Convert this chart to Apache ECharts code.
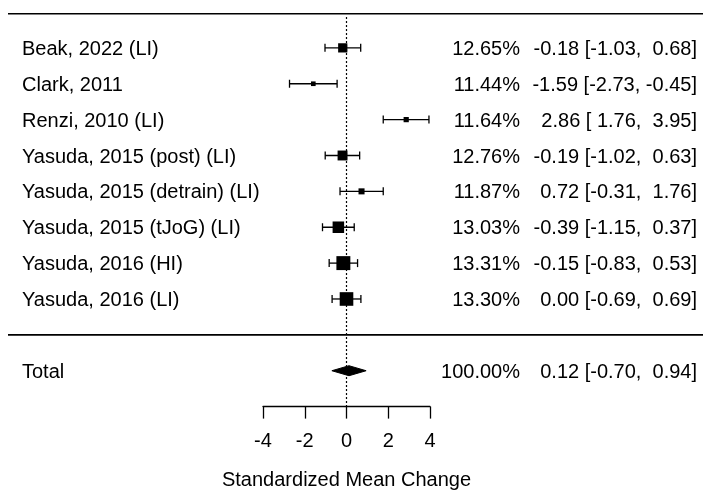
<!DOCTYPE html>
<html>
<head>
<meta charset="utf-8">
<script src="https://cdn.jsdelivr.net/npm/echarts@6/dist/echarts.min.js"></script>
<style>
html,body{margin:0;padding:0;background:#fff;}
#chart{width:703px;height:490px;}
</style>
</head>
<body>
<div id="chart"></div>
<script>
// ---- data ----
var studies = ['Beak, 2022 (LI)', 'Clark, 2011', 'Renzi, 2010 (LI)', 'Yasuda, 2015 (post) (LI)',
  'Yasuda, 2015 (detrain) (LI)', 'Yasuda, 2015 (tJoG) (LI)', 'Yasuda, 2016 (HI)', 'Yasuda, 2016 (LI)'];
var weights = [12.65, 11.44, 11.64, 12.76, 11.87, 13.03, 13.31, 13.30];
var estimates = [-0.18, -1.59, 2.86, -0.19, 0.72, -0.39, -0.15, 0.00];
var ciLower = [-1.03, -2.73, 1.76, -1.02, -0.31, -1.15, -0.83, -0.69];
var ciUpper = [0.68, -0.45, 3.95, 0.63, 1.76, 0.37, 0.53, 0.69];
var totalLabel = 'Total';
var totalWeight = 100.00;
var totalEstimate = 0.12;
var totalLower = -0.70;
var totalUpper = 0.94;
var xTicks = [-4, -2, 0, 2, 4];
var axisTitle = 'Standardized Mean Change';

// ---- helpers ----
var FONT = '"Liberation Sans", Arial, sans-serif';
var FS = 20;
var TEXT_DY = 1.5;
function f2(v) { return (v < 0 ? '-' : ' ') + Math.abs(v).toFixed(2); }
function ciText(e, l, u) { return e.toFixed(2) + ' [' + f2(l) + ', ' + f2(u) + ']'; }

// box size: metafor style, from 1/SE rescaled to [0.5, 1.5]
var invSe = ciLower.map(function (l, i) { return 2 * 1.96 / (ciUpper[i] - l); });
var wMin = Math.min.apply(null, invSe), wMax = Math.max.apply(null, invSe);
var psize = invSe.map(function (w) { return (w - wMin) / (wMax - wMin) + 0.5; });

var rowData = studies.map(function (s, i) {
  return [estimates[i], i + 1, ciLower[i], ciUpper[i], psize[i], i];
});
var totalRow = studies.length + 2;

var LABEL_X = 22, PCT_X = 520, EST_X = 697;

function textEl(txt, x, y, align) {
  return { type: 'text', x: x, y: y + TEXT_DY, style: { text: txt, fill: '#000', fontSize: FS, fontFamily: FONT, align: align, verticalAlign: 'middle' } };
}

var chart = echarts.init(document.getElementById('chart'), null, { renderer: 'canvas' });
chart.setOption({
  animation: false,
  backgroundColor: '#fff',
  grid: { left: 263, right: 273, top: 12, bottom: 83.4, containLabel: false, outerBoundsMode: 'none' },
  xAxis: {
    type: 'value', min: -4, max: 4, interval: 2, position: 'bottom',
    axisLine: { show: true, onZero: false, lineStyle: { color: '#000', width: 1.3 } },
    axisTick: { show: true, length: 12, lineStyle: { color: '#000', width: 1.3 } },
    axisLabel: { fontSize: FS, color: '#000', fontFamily: FONT, margin: 25,
      formatter: function (v) { return xTicks.indexOf(v) >= 0 ? String(v) : ''; } },
    splitLine: { show: false },
    name: axisTitle, nameLocation: 'middle', nameGap: 64,
    nameTextStyle: { fontSize: FS, color: '#000', fontFamily: FONT }
  },
  yAxis: { type: 'value', min: 0, max: 11, inverse: true, show: false },
  series: [
    { // horizontal rules and reference line
      type: 'custom', silent: true,
      data: [[0, 0.05, 0], [0, 9, 0], [0, 0.14, 1]],
      renderItem: function (params, api) {
        var kind = api.value(2);
        if (kind === 0) {
          var y = api.coord([0, api.value(1)])[1];
          return { type: 'line', shape: { x1: 8, y1: y, x2: api.getWidth(), y2: y }, style: { stroke: '#000', lineWidth: 1.6 } };
        }
        var p1 = api.coord([0, api.value(1)]);
        var p2 = api.coord([0, 11]);
        return { type: 'line', shape: { x1: p1[0], y1: p1[1], x2: p2[0], y2: p2[1] }, style: { stroke: '#000', lineWidth: 1.2, lineDash: [2, 2] } };
      }
    },
    { // study rows
      type: 'custom', silent: true,
      data: rowData,
      renderItem: function (params, api) {
        var i = api.value(5);
        var row = api.value(1);
        var pe = api.coord([api.value(0), row]);
        var pl = api.coord([api.value(2), row]);
        var pu = api.coord([api.value(3), row]);
        var s = 9.3 * api.value(4);
        var cap = 4;
        var stroke = { stroke: '#000', lineWidth: 1.3 };
        return { type: 'group', children: [
          { type: 'line', shape: { x1: pl[0], y1: pl[1], x2: pu[0], y2: pu[1] }, style: stroke },
          { type: 'line', shape: { x1: pl[0], y1: pl[1] - cap, x2: pl[0], y2: pl[1] + cap }, style: stroke },
          { type: 'line', shape: { x1: pu[0], y1: pu[1] - cap, x2: pu[0], y2: pu[1] + cap }, style: stroke },
          { type: 'rect', shape: { x: pe[0] - s / 2, y: pe[1] - s / 2, width: s, height: s }, style: { fill: '#000' } },
          textEl(studies[i], LABEL_X, pe[1], 'left'),
          textEl(weights[i].toFixed(2) + '%', PCT_X, pe[1], 'right'),
          textEl(ciText(estimates[i], ciLower[i], ciUpper[i]), EST_X, pe[1], 'right')
        ] };
      }
    },
    { // total diamond
      type: 'custom', silent: true,
      data: [[totalEstimate, totalRow, totalLower, totalUpper]],
      renderItem: function (params, api) {
        var row = api.value(1);
        var pe = api.coord([api.value(0), row]);
        var pl = api.coord([api.value(2), row]);
        var pu = api.coord([api.value(3), row]);
        var h = 5;
        return { type: 'group', children: [
          { type: 'polygon', shape: { points: [[pl[0], pl[1]], [pe[0], pe[1] - h], [pu[0], pu[1]], [pe[0], pe[1] + h]] }, style: { fill: '#000', stroke: '#000', lineWidth: 1 } },
          textEl(totalLabel, LABEL_X, pe[1], 'left'),
          textEl(totalWeight.toFixed(2) + '%', PCT_X, pe[1], 'right'),
          textEl(ciText(totalEstimate, totalLower, totalUpper), EST_X, pe[1], 'right')
        ] };
      }
    }
  ]
});
</script>
</body>
</html>
